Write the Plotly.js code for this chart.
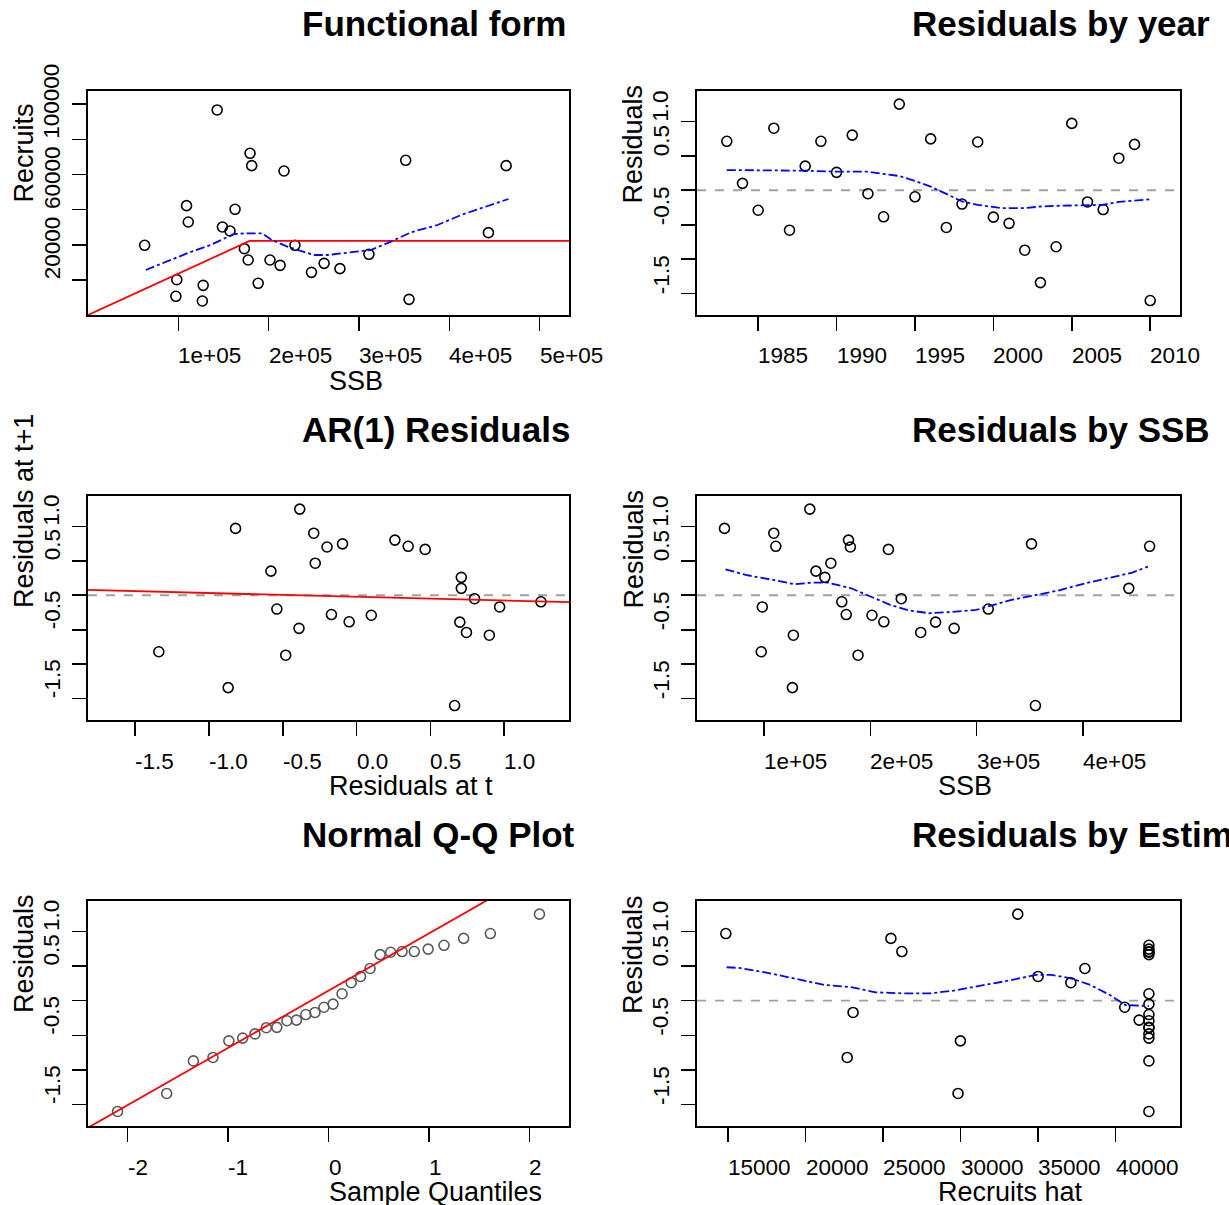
<!DOCTYPE html>
<html><head><meta charset="utf-8">
<script src="https://cdn.plot.ly/plotly-3.0.1.min.js"></script>
<style>html,body{margin:0;padding:0;overflow:hidden;background:#fff}#chart{width:1229px;height:1205px}</style>
</head><body><div id="chart"></div>
<script>
// ---------------- data ----------------
const years = [1983,1984,1985,1986,1987,1988,1989,1990,1991,1992,1993,1994,1995,1996,1997,1998,1999,2000,2001,2002,2003,2004,2005,2006,2007,2008,2009,2010];
const ssb = [111000,443300,201500,109100,127500,148800,462900,157200,179400,229100,212700,143000,173100,351700,247400,311000,181200,261400,278900,188400,126600,97300,62700,98300,177300,162800,217000,355400];
const recruits = [52940,46870,31310,62240,16890,50090,85010,47820,92030,39660,28270,116700,37760,88050,24290,34540,85010,29410,26380,18030,7970,10630,39660,20110,31310,60150,81970,8920];
const recruitsHat = [26205,42144,42144,25500,29982,34993,42144,37108,42144,42144,42144,33683,40583,42144,42144,42144,42144,42144,42144,42144,29831,22680,14849,23058,41515,38015,42144,42144];
const residuals = [0.71,0.10,-0.29,0.90,-0.58,0.35,0.71,0.26,0.80,-0.05,-0.385,1.25,-0.095,0.745,-0.54,-0.20,0.70,-0.39,-0.48,-0.87,-1.34,-0.82,0.97,-0.17,-0.28,0.465,0.665,-1.60];
// theoretical normal quantiles for n = 28
const qqTheoretical = [-2.100,-1.611,-1.345,-1.150,-0.992,-0.854,-0.732,-0.619,-0.514,-0.414,-0.319,-0.226,-0.135,-0.045,0.045,0.135,0.226,0.319,0.414,0.514,0.619,0.732,0.854,0.992,1.150,1.345,1.611,2.100];

// fitted stock-recruit (hockey stick) line
const fitSSB = [0,178900,532500];
const fitRec = [0,42144,42144];
// loess smoothers (blue dash-dot)
const loessSSB1 = [63950,95000,111650,135700,150460,161550,176340,192980,202220,220700,235490,250280,265060,290940,313120,335300,357490,387060,412940,442510,465430];
const loessRec1 = [25620,32260,35480,39850,43640,46110,46490,46490,43070,38900,36500,34150,34150,35860,37000,41750,47060,51230,56920,62050,66030];
const loessYear = [1983,1987,1988,1990,1992,1993,1994,1995,1996,1997,1998,1999,2000.5,2002,2003,2004,2005.5,2007,2008,2010];
const loessYearRes = [0.293,0.293,0.284,0.269,0.269,0.236,0.207,0.135,0.053,-0.053,-0.163,-0.212,-0.26,-0.26,-0.236,-0.226,-0.221,-0.212,-0.168,-0.13];
const loessSSB2 = [63600,82700,108500,128700,145200,159900,182000,196700,218700,237100,255500,277600,299600,310600,332700,354800,376800,402500,428300,446600,461300];
const loessSSBRes = [0.377,0.295,0.222,0.159,0.184,0.184,0.101,0.005,-0.140,-0.222,-0.261,-0.242,-0.213,-0.164,-0.068,0.0,0.068,0.174,0.271,0.329,0.415];
const loessHat = [14900,15700,17470,19230,21240,23010,24520,26280,28040,29550,31320,33080,34840,35850,37110,38370,39630,40630,42140];
const loessHatRes = [0.483,0.473,0.406,0.324,0.227,0.193,0.121,0.106,0.106,0.145,0.213,0.290,0.372,0.372,0.324,0.227,0.082,-0.063,-0.077];
// AR(1) regression line and QQ line
const arLineX = [-1.82,1.44];
const arLineY = [0.077,-0.101];
const qqLineX = [-2.5,2.5];
const qqLineY = [-1.922,2.212];

// tick values and labels
const ssbTicks = [100000,200000,300000,400000,500000];
const ssbTickText = ['1e+05','2e+05','3e+05','4e+05','5e+05'];
const recTicks = [20000,40000,60000,80000,100000,120000];
const recLabelVals = [20000,60000,100000];
const recLabelText = ['20000','60000','100000'];
const yearTicks = [1985,1990,1995,2000,2005,2010];
const yearTickText = ['1985','1990','1995','2000','2005','2010'];
const resTicks = [-1.5,-1.0,-0.5,0.0,0.5,1.0];
const resLabelVals = [-1.5,-0.5,0.5,1.0];
const resLabelText = ['-1.5','-0.5','0.5','1.0'];
const arTicks = [-1.5,-1.0,-0.5,0.0,0.5,1.0];
const arTickText = ['-1.5','-1.0','-0.5','0.0','0.5','1.0'];
const ssb2Ticks = [100000,200000,300000,400000];
const ssb2TickText = ['1e+05','2e+05','3e+05','4e+05'];
const qqTicks = [-2,-1,0,1,2];
const qqTickText = ['-2','-1','0','1','2'];
const hatTicks = [15000,20000,25000,30000,35000,40000];
const hatTickText = ['15000','20000','25000','30000','35000','40000'];

// ---------------- layout ----------------
const FONT = 'Liberation Sans, Arial, Helvetica, sans-serif';
const W = 1229, H = 1205;
const colL = [88/W, 569/W], colR = [697/W, 1180/W];
const row1 = [1-315/H, 1-91/H], row2 = [1-720/H, 1-496/H], row3 = [1-1126/H, 1-901/H];
const resRange = [-1.81, 1.44];

const panels = [
  {n:'', xd:colL, yd:row1, xr:[0,532500], yr:[0,127500], xt:ssbTicks, xl:ssbTicks, xlt:ssbTickText, yt:recTicks, yl:recLabelVals, ylt:recLabelText, title:'Functional form', xtitle:'SSB', ytitle:'Recruits', zero:false},
  {n:'2', xd:colR, yd:row1, xr:[1981.1,2011.9], yr:resRange, xt:yearTicks, xl:yearTicks, xlt:yearTickText, yt:resTicks, yl:resLabelVals, ylt:resLabelText, title:'Residuals by year', xtitle:'', ytitle:'Residuals', zero:true},
  {n:'3', xd:colL, yd:row2, xr:[-1.82,1.44], yr:resRange, xt:arTicks, xl:arTicks, xlt:arTickText, yt:resTicks, yl:resLabelVals, ylt:resLabelText, title:'AR(1) Residuals', xtitle:'Residuals at t', ytitle:'Residuals at t+1', zero:true},
  {n:'4', xd:colR, yd:row2, xr:[36800,491500], yr:resRange, xt:ssb2Ticks, xl:ssb2Ticks, xlt:ssb2TickText, yt:resTicks, yl:resLabelVals, ylt:resLabelText, title:'Residuals by SSB', xtitle:'SSB', ytitle:'Residuals', zero:true},
  {n:'5', xd:colL, yd:row3, xr:[-2.394,2.394], yr:resRange, xt:qqTicks, xl:qqTicks, xlt:qqTickText, yt:resTicks, yl:resLabelVals, ylt:resLabelText, title:'Normal Q-Q Plot', xtitle:'Sample Quantiles', ytitle:'Residuals', zero:false},
  {n:'6', xd:colR, yd:row3, xr:[12990,44150], yr:resRange, xt:hatTicks, xl:hatTicks, xlt:hatTickText, yt:resTicks, yl:resLabelVals, ylt:resLabelText, title:'Residuals by Estimated Recruits', xtitle:'Recruits hat', ytitle:'Residuals', zero:true}
];

const layout = {
  width: W, height: H, margin:{l:0,r:0,t:0,b:0},
  paper_bgcolor:'white', plot_bgcolor:'white', showlegend:false,
  font:{family:FONT, color:'black'},
  annotations:[], shapes:[]
};

const TICKF = 22.5, LABF = 27, TITF = 35;
panels.forEach(p => {
  const xa = 'x'+p.n, ya = 'y'+p.n;
  const axBase = {showticklabels:false, ticks:'outside', ticklen:14, tickwidth:1.6, tickcolor:'black',
    showline:true, mirror:true, linecolor:'black', linewidth:2, zeroline:false, showgrid:false, fixedrange:true};
  layout['xaxis'+p.n] = Object.assign({}, axBase, {domain:p.xd, range:p.xr, tickmode:'array', tickvals:p.xt, anchor:ya});
  layout['yaxis'+p.n] = Object.assign({}, axBase, {domain:p.yd, range:p.yr, tickmode:'array', tickvals:p.yt, anchor:xa});
  // x tick labels (start-anchored at the tick)
  p.xl.forEach((v,i) => layout.annotations.push({xref:xa, yref:ya+' domain', x:v, y:0, xanchor:'left', yanchor:'middle',
    yshift:-41, xshift:-2, text:p.xlt[i], showarrow:false, font:{family:FONT,size:TICKF,color:'black'}}));
  // y tick labels (rotated, start-anchored at the tick)
  p.yl.forEach((v,i) => layout.annotations.push({xref:xa+' domain', yref:ya, x:0, y:v, xanchor:'center', yanchor:'bottom',
    xshift:-36, yshift:-2, textangle:-90, text:p.ylt[i], showarrow:false, font:{family:FONT,size:TICKF,color:'black'}}));
  // axis titles
  if (p.xtitle) layout.annotations.push({xref:xa+' domain', yref:ya+' domain', x:0.5, y:0, xanchor:'left', yanchor:'middle',
    yshift:-66, xshift:-2, text:p.xtitle, showarrow:false, font:{family:FONT,size:LABF,color:'black'}});
  layout.annotations.push({xref:xa+' domain', yref:ya+' domain', x:0, y:0.5, xanchor:'center', yanchor:'bottom',
    xshift:-64, yshift:-2, textangle:-90, text:p.ytitle, showarrow:false, font:{family:FONT,size:LABF,color:'black'}});
  // panel title
  layout.annotations.push({xref:xa+' domain', yref:ya+' domain', x:0.5, y:1, xanchor:'left', yanchor:'middle',
    xshift:-29, yshift:67, text:'<b>'+p.title+'</b>', showarrow:false, font:{family:FONT,size:TITF,color:'black'}});
  if (p.zero) layout.shapes.push({type:'line', xref:xa+' domain', yref:ya, x0:0, x1:1, y0:0, y1:0,
    line:{color:'#a0a0a0', width:1.8, dash:'dash'}, layer:'below'});
});

// ---------------- traces ----------------
const pts = (color) => ({symbol:'circle-open', size:10, color:color, line:{width:1.6, color:color}});
const blue = {color:'#0000ff', width:1.8, dash:'dashdot'};
const red = {color:'#ff0000', width:1.8};
const sortedRes = residuals.slice().sort((a,b)=>a-b);

const traces = [
  // Functional form
  {x:ssb, y:recruits, mode:'markers', marker:pts('black'), xaxis:'x', yaxis:'y'},
  {x:fitSSB, y:fitRec, mode:'lines', line:red, xaxis:'x', yaxis:'y'},
  {x:loessSSB1, y:loessRec1, mode:'lines', line:blue, xaxis:'x', yaxis:'y'},
  // Residuals by year
  {x:years, y:residuals, mode:'markers', marker:pts('black'), xaxis:'x2', yaxis:'y2'},
  {x:loessYear, y:loessYearRes, mode:'lines', line:blue, xaxis:'x2', yaxis:'y2'},
  // AR(1)
  {x:residuals.slice(0,-1), y:residuals.slice(1), mode:'markers', marker:pts('black'), xaxis:'x3', yaxis:'y3'},
  {x:arLineX, y:arLineY, mode:'lines', line:red, xaxis:'x3', yaxis:'y3'},
  // Residuals by SSB
  {x:ssb, y:residuals, mode:'markers', marker:pts('black'), xaxis:'x4', yaxis:'y4'},
  {x:loessSSB2, y:loessSSBRes, mode:'lines', line:blue, xaxis:'x4', yaxis:'y4'},
  // QQ
  {x:qqTheoretical, y:sortedRes, mode:'markers', marker:pts('#5a5a5a'), xaxis:'x5', yaxis:'y5'},
  {x:qqLineX, y:qqLineY, mode:'lines', line:red, xaxis:'x5', yaxis:'y5'},
  // Residuals by estimated recruits
  {x:recruitsHat, y:residuals, mode:'markers', marker:pts('black'), xaxis:'x6', yaxis:'y6'},
  {x:loessHat, y:loessHatRes, mode:'lines', line:blue, xaxis:'x6', yaxis:'y6'}
];
traces.forEach(t => { t.hoverinfo = 'skip'; });

Plotly.newPlot('chart', traces, layout, {staticPlot:true, displayModeBar:false});
</script>
</body></html>
